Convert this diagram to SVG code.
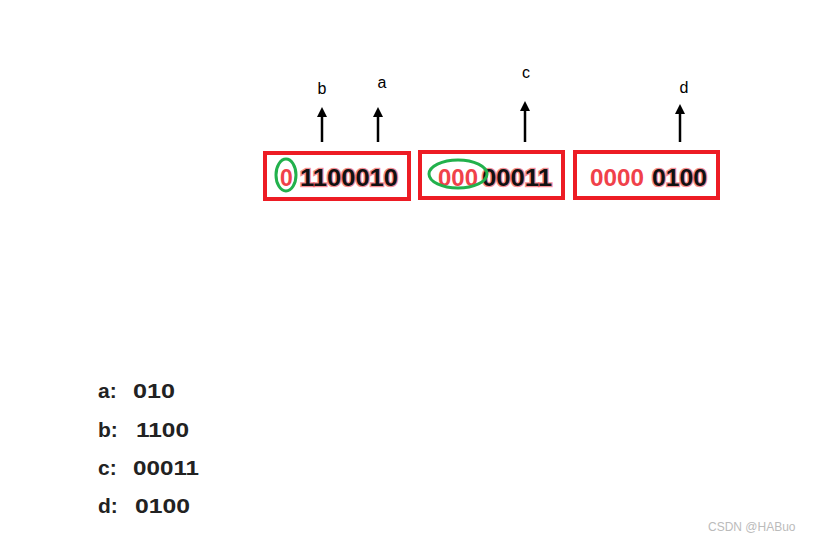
<svg xmlns="http://www.w3.org/2000/svg" width="820" height="544" viewBox="0 0 820 544">
<defs>
<style>
.box{fill:none;stroke:#ed1c24;stroke-width:4}
.ell{fill:none;stroke:#22b14c;stroke-width:3}
.num{font-family:"Liberation Sans",Arial,sans-serif;font-size:23px;font-weight:bold}
.r{fill:#f0414a}
.k{fill:#111;stroke:#f0414a;stroke-width:2.5;paint-order:stroke;stroke-opacity:0.6}
.lab{font-family:"Liberation Sans",Arial,sans-serif;font-size:16px;fill:#000;text-anchor:middle}
.leg{font-family:"Liberation Sans",Arial,sans-serif;font-size:21px;font-weight:bold;fill:#222}
.arr{stroke:#000;stroke-width:2.5;fill:none}
</style>
<marker id="ah" viewBox="0 0 10 10" refX="5" refY="5" markerWidth="4" markerHeight="5" orient="auto"><path d="M0,0 L10,5 L0,10 z" fill="#000"/></marker>
</defs>
<rect width="820" height="544" fill="#fff"/>
<g id="box1">
<rect class="box" x="265" y="153" width="144" height="46"/>
<text class="num" y="186"><tspan class="r" x="280">0</tspan><tspan class="k" x="300" textLength="98" lengthAdjust="spacingAndGlyphs">1100010</tspan></text>
<ellipse class="ell" cx="286" cy="175" rx="10" ry="16"/>
</g>
<g id="box2">
<rect class="box" x="420" y="152" width="143" height="46"/>
<text class="num" y="186"><tspan class="r" x="438" textLength="40" lengthAdjust="spacingAndGlyphs">000</tspan><tspan class="k" x="482" textLength="70" lengthAdjust="spacingAndGlyphs">00011</tspan></text>
<ellipse class="ell" cx="458" cy="174" rx="29" ry="14"/>
</g>
<g id="box3">
<rect class="box" x="575" y="152" width="143" height="46"/>
<text class="num" y="186"><tspan class="r" x="590" textLength="54" lengthAdjust="spacingAndGlyphs">0000</tspan><tspan class="k" x="652" textLength="55" lengthAdjust="spacingAndGlyphs">0100</tspan></text>
</g>
<g id="connectors">
<line class="arr" x1="322" y1="142" x2="322" y2="112" marker-end="url(#ah)"/>
<line class="arr" x1="378" y1="142" x2="378" y2="112" marker-end="url(#ah)"/>
<line class="arr" x1="525" y1="142" x2="525" y2="106" marker-end="url(#ah)"/>
<line class="arr" x1="680" y1="142" x2="680" y2="109" marker-end="url(#ah)"/>
</g>
<g id="labels">
<text class="lab" x="322" y="94">b</text>
<text class="lab" x="382" y="88">a</text>
<text class="lab" x="526" y="78">c</text>
<text class="lab" x="684" y="93">d</text>
</g>
<g id="legend">
<text class="leg" y="398"><tspan x="98">a:</tspan><tspan x="133" textLength="42" lengthAdjust="spacingAndGlyphs">010</tspan></text>
<text class="leg" y="437"><tspan x="98">b:</tspan><tspan x="136" textLength="53" lengthAdjust="spacingAndGlyphs">1100</tspan></text>
<text class="leg" y="475"><tspan x="98">c:</tspan><tspan x="133" textLength="66" lengthAdjust="spacingAndGlyphs">00011</tspan></text>
<text class="leg" y="513"><tspan x="98">d:</tspan><tspan x="135" textLength="55" lengthAdjust="spacingAndGlyphs">0100</tspan></text>
</g>
<text x="708" y="531" font-family="Liberation Sans,Arial,sans-serif" font-size="12" fill="#bbb">CSDN @HABuo</text>
</svg>
